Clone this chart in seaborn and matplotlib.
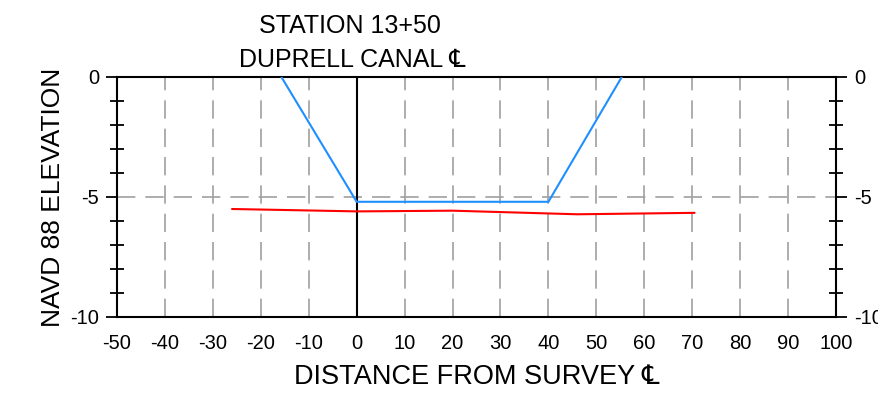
import numpy as np
import pandas as pd
import seaborn as sns
import matplotlib.pyplot as plt
from matplotlib.ticker import MultipleLocator

# channel template (blue) and surveyed bottom (red)
design_x = [-15.7, 0, 40, 55.3]
design_y = [0, -5.2, -5.2, 0]
survey_x = [-26, -5, 0, 20, 46, 70.5]
survey_y = [-5.5, -5.58, -5.6, -5.57, -5.72, -5.66]

x_ticks = list(range(-50, 101, 10))
y_ticks = [0, -5, -10]

sns.set_style("white")
plt.rcParams['font.family'] = ['Liberation Sans', 'DejaVu Sans']
plt.rcParams['axes.unicode_minus'] = False
plt.rcParams['text.color'] = 'black'
plt.rcParams['axes.labelcolor'] = 'black'
plt.rcParams['xtick.color'] = 'black'
plt.rcParams['ytick.color'] = 'black'

fig = plt.figure(figsize=(8.79, 4.07), dpi=100)
ax = fig.add_axes([117/879, 90/407, (836-117)/879, (317-77)/407])

ax.axvline(0, color='black', lw=1.5, zorder=2)
sns.lineplot(x=design_x, y=design_y, color='#1f8fff', lw=1.5, ax=ax, sort=False, zorder=3)
sns.lineplot(x=survey_x, y=survey_y, color='#ff0000', lw=1.5, ax=ax, sort=False, zorder=3)

ax.set_xlim(-50, 100)
ax.set_ylim(-10, 0)
ax.set_xticks(x_ticks)
ax.set_yticks(y_ticks)
ax.xaxis.set_minor_locator(MultipleLocator(5))
ax.yaxis.set_minor_locator(MultipleLocator(1))

ax.grid(True, which='major', color='#a0a0a0', lw=1.2, linestyle=(0, (11, 6)), zorder=0)

for s in ax.spines.values():
    s.set_visible(True)
    s.set_color('black')
    s.set_linewidth(1.5)

ax.tick_params(axis='x', which='major', direction='out', length=8, width=1.3, labelsize=14.5, pad=4)
ax.tick_params(axis='x', which='minor', direction='inout', length=9, width=1.3)
ax.tick_params(axis='y', which='major', direction='out', length=8, width=1.3, labelsize=14.5,
               left=True, right=True, labelleft=True, labelright=True, pad=5)
ax.tick_params(axis='y', which='minor', direction='inout', length=10, width=1.3, left=True, right=True)

ax.set_xlabel('DISTANCE FROM SURVEY \u2104', fontsize=19.5, labelpad=8)
ax.set_ylabel('NAVD 88 ELEVATION', fontsize=19, labelpad=4)

xf = ax.get_xaxis_transform()
ax.text(-1.5, 1.183, 'STATION 13+50', transform=xf, ha='center', va='baseline', fontsize=18)
ax.text(-1.0, 1.042, 'DUPRELL CANAL \u2104', transform=xf, ha='center', va='baseline', fontsize=18)

fig.savefig('out.png', dpi=100)
